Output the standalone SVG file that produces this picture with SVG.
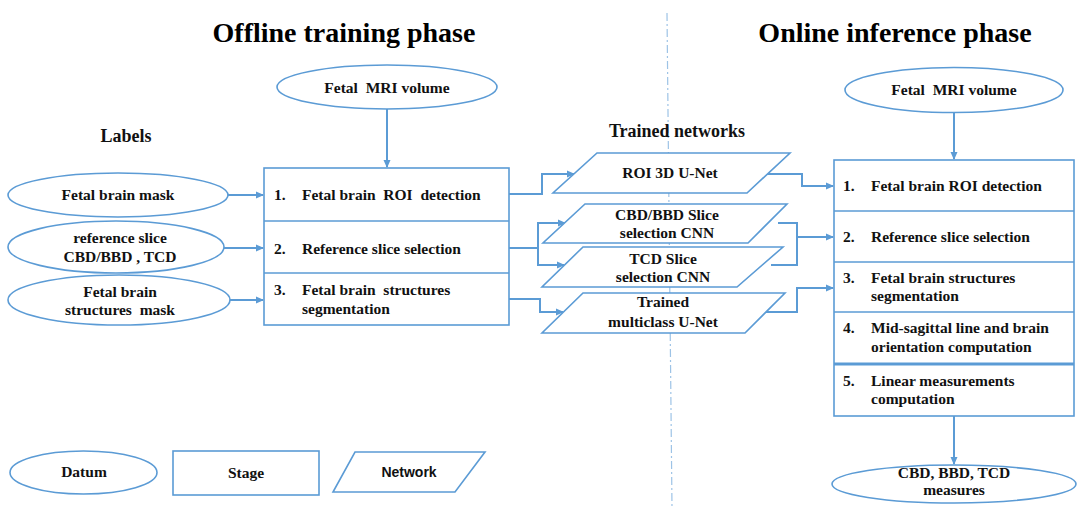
<svg xmlns="http://www.w3.org/2000/svg" width="1077" height="508" viewBox="0 0 1077 508">
<defs>
<marker id="ah" markerWidth="8" markerHeight="8" refX="7" refY="4" orient="auto" markerUnits="userSpaceOnUse">
<path d="M0,0.5 L8,4 L0,7.5 Z" fill="#5B9BD5"/>
</marker>
<style>
.shape{fill:#fff;stroke:#5B9BD5;stroke-width:1.6}
.conn{fill:none;stroke:#5B9BD5;stroke-width:2}
.arr{fill:none;stroke:#5B9BD5;stroke-width:2;marker-end:url(#ah)}
.t{font-family:"Liberation Serif","Times New Roman",serif;font-weight:bold;font-size:15.5px;fill:#111}
.c{text-anchor:middle}
.title{font-family:"Liberation Serif","Times New Roman",serif;font-weight:bold;font-size:28px;fill:#000;text-anchor:middle}
.h{font-family:"Liberation Serif","Times New Roman",serif;font-weight:bold;font-size:18px;fill:#111;text-anchor:middle}
.sans{font-family:"Liberation Sans",Arial,sans-serif;font-weight:bold;font-size:14px;fill:#111;text-anchor:middle}
</style>
</defs>
<rect width="1077" height="508" fill="#fff"/>

<g id="divider">
<line x1="667" y1="13" x2="672" y2="508" stroke="#9DC3E6" stroke-width="1.2" stroke-dasharray="8,3,2,3"/>
</g>

<g id="titles">
<text class="title" x="344" y="42">Offline training phase</text>
<text class="title" x="895" y="42">Online inference phase</text>
<text class="h" x="126" y="142">Labels</text>
<text class="h" x="677" y="137">Trained networks</text>
</g>

<g id="connectors">
<line class="arr" x1="387" y1="109" x2="387" y2="167"/>
<line class="arr" x1="228" y1="195" x2="263" y2="195"/>
<line class="arr" x1="224" y1="248" x2="263" y2="248"/>
<line class="arr" x1="230" y1="300" x2="263" y2="300"/>
<polyline class="arr" points="509,194 542,194 542,174 574,174"/>
<polyline class="conn" points="509,248 538,248"/>
<line class="conn" x1="538" y1="222" x2="538" y2="266"/>
<polyline class="arr" points="537,223 565,223"/>
<polyline class="arr" points="537,265 564,265"/>
<polyline class="arr" points="509,299 540,299 540,312 563,312"/>
<polyline class="arr" points="764,174 802,174 802,186 833,186"/>
<polyline class="conn" points="778,223 797,223 797,265 771,265"/>
<line class="arr" x1="797" y1="237" x2="833" y2="237"/>
<polyline class="arr" points="760,312 797,312 797,288 833,288"/>
<line class="arr" x1="954" y1="113" x2="954" y2="159"/>
<line class="arr" x1="954" y1="416" x2="954" y2="464"/>
</g>

<g id="offline-mri">
<ellipse class="shape" cx="387" cy="87" rx="110" ry="22"/>
<text class="t c" x="387" y="93" xml:space="preserve">Fetal  MRI volume</text>
</g>

<g id="label-brain-mask">
<ellipse class="shape" cx="118" cy="195" rx="110" ry="22"/>
<text class="t c" x="118" y="200">Fetal brain  mask</text>
</g>
<g id="label-ref-slice">
<ellipse class="shape" cx="116" cy="247" rx="108" ry="26"/>
<text class="t c" x="120" y="243">reference slice</text>
<text class="t c" x="120" y="262">CBD/BBD , TCD</text>
</g>
<g id="label-structures-mask">
<ellipse class="shape" cx="119" cy="300" rx="111" ry="25"/>
<text class="t c" x="120" y="297">Fetal brain</text>
<text class="t c" x="120" y="315" xml:space="preserve">structures  mask</text>
</g>

<g id="offline-stages">
<rect class="shape" x="264" y="168" width="245" height="157"/>
<line class="shape" x1="264" y1="221" x2="509" y2="221"/>
<line class="shape" x1="264" y1="273" x2="509" y2="273"/>
<text class="t" x="274" y="200">1.</text>
<text class="t" x="302" y="200" xml:space="preserve">Fetal brain  ROI  detection</text>
<text class="t" x="274" y="254">2.</text>
<text class="t" x="302" y="254">Reference slice selection</text>
<text class="t" x="274" y="295">3.</text>
<text class="t" x="302" y="295" xml:space="preserve">Fetal brain  structures</text>
<text class="t" x="302" y="314">segmentation</text>
</g>

<g id="net-roi">
<polygon class="shape" points="597,153 790,153 747,193 553,193"/>
<text class="t c" x="670" y="178">ROI 3D U-Net</text>
</g>
<g id="net-cbd">
<polygon class="shape" points="585,204 787,204 748,243 543,243"/>
<text class="t c" x="667" y="220">CBD/BBD Slice</text>
<text class="t c" x="667" y="238">selection CNN</text>
</g>
<g id="net-tcd">
<polygon class="shape" points="583,247 783,247 737,287 542,287"/>
<text class="t c" x="663" y="264">TCD Slice</text>
<text class="t c" x="663" y="282">selection CNN</text>
</g>
<g id="net-multiclass">
<polygon class="shape" points="583,293 785,293 745,333 542,333"/>
<text class="t c" x="663" y="307">Trained</text>
<text class="t c" x="663" y="327">multiclass U-Net</text>
</g>

<g id="online-mri">
<ellipse class="shape" cx="954" cy="90" rx="109" ry="22.5"/>
<text class="t c" x="954" y="95" xml:space="preserve">Fetal  MRI volume</text>
</g>

<g id="online-stages">
<rect class="shape" x="834" y="160" width="240" height="256"/>
<line class="shape" x1="834" y1="211" x2="1074" y2="211"/>
<line class="shape" x1="834" y1="262" x2="1074" y2="262"/>
<line class="shape" x1="834" y1="312" x2="1074" y2="312"/>
<line class="shape" x1="834" y1="364" x2="1074" y2="364" style="stroke-width:3"/>
<text class="t" x="843" y="191">1.</text>
<text class="t" x="871" y="191">Fetal brain  ROI detection</text>
<text class="t" x="843" y="242">2.</text>
<text class="t" x="871" y="242">Reference slice selection</text>
<text class="t" x="843" y="283">3.</text>
<text class="t" x="871" y="283">Fetal brain structures</text>
<text class="t" x="871" y="301">segmentation</text>
<text class="t" x="843" y="333">4.</text>
<text class="t" x="871" y="333">Mid-sagittal line and brain</text>
<text class="t" x="871" y="352">orientation computation</text>
<text class="t" x="843" y="386">5.</text>
<text class="t" x="871" y="386">Linear measurements</text>
<text class="t" x="871" y="404">computation</text>
</g>

<g id="measures">
<ellipse class="shape" cx="954" cy="484" rx="122" ry="19"/>
<text class="t c" x="954" y="478">CBD, BBD, TCD</text>
<text class="t c" x="954" y="495">measures</text>
</g>

<g id="legend-datum">
<ellipse class="shape" cx="83.5" cy="472.5" rx="73.5" ry="21.5"/>
<text class="t c" x="84" y="477">Datum</text>
</g>
<g id="legend-stage">
<rect class="shape" x="173" y="451" width="146" height="44"/>
<text class="t c" x="246" y="478">Stage</text>
</g>
<g id="legend-network">
<polygon class="shape" points="355,452 485,452 455,492 333,492"/>
<text class="sans" x="409" y="477">Network</text>
</g>
</svg>
